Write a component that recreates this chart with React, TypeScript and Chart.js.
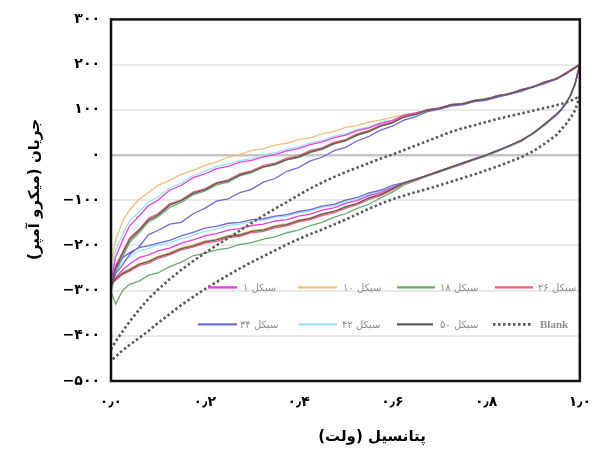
import React, { useEffect, useRef } from 'react';
import { Chart, registerables } from 'chart.js';

Chart.register(...registerables);

// Potential sweep grids: forward scan 0 → 1.0 V, reverse scan 1.0 → 0 V
const X_FWD = [0, 0.01, 0.025, 0.04, 0.06, 0.08, 0.1, 0.125, 0.15, 0.175, 0.2, 0.225, 0.25, 0.275, 0.3, 0.325, 0.35, 0.375, 0.4, 0.425, 0.45, 0.475, 0.5, 0.525, 0.55, 0.575, 0.6, 0.625, 0.65, 0.675, 0.7, 0.725, 0.75, 0.775, 0.8, 0.825, 0.85, 0.875, 0.9, 0.925, 0.95, 0.97, 0.985, 1.0];
const X_REV = [1.0, 0.995, 0.99, 0.98, 0.97, 0.96, 0.95, 0.925, 0.9, 0.875, 0.85, 0.825, 0.8, 0.775, 0.75, 0.725, 0.7, 0.675, 0.65, 0.625, 0.6, 0.575, 0.55, 0.525, 0.5, 0.475, 0.45, 0.425, 0.4, 0.375, 0.35, 0.325, 0.3, 0.275, 0.25, 0.225, 0.2, 0.175, 0.15, 0.125, 0.1, 0.08, 0.06, 0.04, 0.025, 0.01, 0];

// Current (µA), forward branches
const CYCLE_1_FWD = [-278, -225, -188, -156, -135, -112, -100, -78, -67, -50, -42, -30, -25, -16, -12, -4, 1, 9, 14, 23, 29, 38, 44, 54, 60, 70, 76, 88, 93, 99, 104, 111, 112, 121, 123, 132, 134, 144, 151, 161, 168, 181, 189, 199];
const CYCLE_10_FWD = [-240, -188, -146, -121, -98, -83, -67, -56, -43, -34, -23, -15, -5, 1, 10, 14, 22, 26, 34, 38, 47, 52, 61, 65, 73, 77, 84, 89, 93, 100, 103, 111, 113, 120, 123, 131, 135, 144, 150, 161, 168, 181, 192, 201];
const CYCLE_18_FWD = [-305, -258, -225, -193, -172, -148, -137, -116, -105, -88, -80, -66, -60, -46, -39, -27, -22, -11, -6, 5, 12, 24, 31, 44, 51, 64, 71, 84, 90, 99, 103, 112, 113, 121, 125, 129, 137, 142, 152, 159, 170, 179, 191, 199];
const CYCLE_26_FWD = [-288, -244, -214, -183, -165, -140, -130, -108, -99, -82, -75, -61, -55, -41, -35, -23, -18, -7, -2, 10, 16, 28, 34, 47, 54, 66, 73, 86, 91, 101, 103, 112, 114, 121, 123, 132, 135, 145, 150, 162, 169, 182, 191, 201];
const CYCLE_34_FWD = [-288, -262, -243, -220, -203, -176, -167, -153, -149, -130, -118, -102, -97, -83, -76, -60, -52, -36, -28, -13, -5, 9, 17, 31, 41, 55, 64, 77, 85, 96, 101, 108, 111, 118, 121, 128, 134, 141, 150, 158, 168, 179, 190, 199];
const CYCLE_42_FWD = [-262, -210, -175, -146, -126, -104, -93, -73, -62, -45, -36, -25, -20, -12, -8, 0, 5, 13, 18, 27, 32, 41, 47, 56, 62, 72, 77, 89, 92, 100, 104, 109, 115, 118, 125, 129, 137, 142, 152, 159, 170, 179, 191, 200];
const CYCLE_50_FWD = [-292, -250, -218, -187, -167, -144, -133, -111, -101, -85, -77, -63, -57, -44, -37, -26, -20, -10, -4, 7, 14, 25, 32, 44, 52, 64, 71, 84, 90, 99, 103, 111, 113, 120, 123, 131, 135, 144, 150, 161, 168, 181, 190, 200];
const BLANK_FWD = [-430, -412, -390, -368, -342, -318, -298, -275, -254, -235, -217, -200, -184, -167, -150, -134, -119, -104, -89, -74, -61, -49, -38, -28, -18, -8, 1, 11, 21, 31, 41, 51, 59, 66, 73, 80, 86, 92, 98, 104, 110, 116, 122, 130];

// Current (µA), reverse branches
const CYCLE_1_REV = [199, 181, 157, 133, 113, 101, 89, 69, 47, 33, 20, 11, -1, -8, -19, -26, -37, -44, -55, -61, -72, -83, -90, -101, -107, -117, -122, -131, -135, -143, -146, -153, -156, -163, -166, -174, -179, -188, -195, -206, -212, -221, -227, -241, -254, -271, -285];
const CYCLE_10_REV = [200, 179, 158, 131, 115, 99, 90, 67, 49, 31, 21, 9, 1, -10, -18, -28, -35, -46, -53, -63, -75, -88, -96, -108, -115, -125, -130, -139, -144, -152, -156, -164, -167, -175, -178, -186, -190, -199, -205, -216, -224, -234, -240, -251, -259, -273, -282];
const CYCLE_18_REV = [198, 178, 156, 130, 113, 99, 88, 66, 47, 30, 19, 8, -2, -11, -20, -29, -38, -47, -57, -66, -82, -95, -109, -118, -130, -138, -149, -156, -166, -172, -181, -186, -194, -198, -206, -210, -217, -223, -237, -247, -261, -266, -279, -286, -299, -330, -302];
const CYCLE_26_REV = [201, 180, 159, 132, 114, 100, 91, 68, 48, 33, 21, 10, 0, -9, -19, -27, -37, -45, -55, -63, -77, -90, -98, -110, -118, -128, -134, -143, -148, -157, -161, -169, -172, -180, -183, -191, -195, -204, -210, -221, -229, -239, -245, -257, -264, -277, -286];
const CYCLE_34_REV = [199, 178, 157, 131, 114, 100, 89, 68, 47, 32, 20, 10, -1, -9, -17, -27, -35, -45, -53, -61, -67, -78, -84, -94, -100, -109, -113, -121, -125, -132, -135, -141, -143, -149, -151, -158, -162, -171, -179, -189, -195, -201, -205, -216, -227, -251, -270];
const CYCLE_42_REV = [200, 180, 158, 132, 114, 100, 90, 68, 48, 32, 21, 10, 0, -9, -18, -27, -36, -45, -54, -62, -70, -80, -87, -97, -103, -112, -116, -124, -128, -135, -138, -144, -147, -153, -156, -164, -169, -178, -185, -194, -199, -207, -212, -225, -236, -257, -272];
const CYCLE_50_REV = [200, 180, 158, 132, 114, 100, 90, 68, 48, 32, 21, 10, 0, -9, -18, -27, -36, -45, -54, -62, -75, -87, -95, -107, -115, -125, -131, -140, -145, -154, -158, -166, -169, -177, -180, -188, -192, -201, -207, -218, -226, -236, -242, -254, -262, -274, -290];
const BLANK_REV = [130, 115, 99, 82, 68, 56, 44, 25, 8, -5, -15, -25, -34, -43, -51, -59, -67, -75, -82, -90, -98, -108, -119, -131, -143, -154, -165, -175, -186, -198, -211, -224, -237, -251, -266, -281, -297, -314, -332, -352, -372, -389, -405, -420, -432, -446, -455];

const SERIES_NAMES = ['سیکل ۱', 'سیکل ۱۰', 'سیکل ۱۸', 'سیکل ۲۶', 'سیکل ۳۴', 'سیکل ۴۲', 'سیکل ۵۰', 'Blank'];
const SERIES_COLORS = ['#e640dc', '#efbf7c', '#6cab6c', '#f25f7c', '#6f6bd2', '#9fe2ee', '#5f5a56', '#5a5a5a'];

const X_TICK_VALUES = [0, 0.2, 0.4, 0.6, 0.8, 1.0];
const X_TICK_LABELS = ['۰٫۰', '۰٫۲', '۰٫۴', '۰٫۶', '۰٫۸', '۱٫۰'];
const Y_TICK_VALUES = [-500, -400, -300, -200, -100, 0, 100, 200, 300];
const Y_TICK_LABELS = ['−۵۰۰', '−۴۰۰', '−۳۰۰', '−۲۰۰', '−۱۰۰', '۰', '۱۰۰', '۲۰۰', '۳۰۰'];

const X_TITLE = 'پتانسیل (ولت)';
const Y_TITLE = 'جریان (میکرو آمپر)';

const ARABIC_FONT = '"DejaVu Sans", "Noto Sans", sans-serif';

function cycleLoop(fwd: number[], rev: number[]) {
  return [
    ...X_FWD.map((x, i) => ({ x, y: fwd[i] })),
    ...X_REV.map((x, i) => ({ x, y: rev[i] })),
  ];
}

// Legend drawn inside the plot: [series index, line start, line end, text start]
const LEGEND_ROWS = [
  { dy: 268, items: [[0, 97, 126, 132], [1, 187, 226, 232], [2, 286, 324, 329], [3, 384, 422, 427]] },
  { dy: 305, items: [[4, 87, 126, 129], [5, 187, 226, 231], [6, 286, 322, 329], [7, 382, 422, 429]] },
];

// Draws right-to-left text with its left edge at x
function fillRtl(ctx: CanvasRenderingContext2D, text: string, x: number, y: number, align: CanvasTextAlign) {
  ctx.save();
  (ctx as any).direction = 'rtl';
  ctx.textAlign = align;
  ctx.fillText('\u200F' + text + '\u200F', x, y);
  ctx.restore();
}

const framePlugin = {
  id: 'frameAndLabels',
  afterDatasetsDraw(chart: any) {
    const { ctx, chartArea: ca } = chart;
    ctx.save();

    // Legend
    for (const row of LEGEND_ROWS) {
      const y = ca.top + row.dy;
      for (const [idx, x0, x1, tx] of row.items) {
        ctx.beginPath();
        ctx.strokeStyle = SERIES_COLORS[idx];
        ctx.lineWidth = idx === 7 ? 2.6 : 2.4;
        ctx.setLineDash(idx === 7 ? [2.5, 2.5] : []);
        ctx.moveTo(ca.left + x0, y);
        ctx.lineTo(ca.left + x1, y);
        ctx.stroke();
        ctx.setLineDash([]);
        ctx.fillStyle = '#8c8c8c';
        ctx.textBaseline = 'middle';
        if (idx === 7) {
          ctx.font = 'bold 11px "Liberation Serif", serif';
          ctx.textAlign = 'left';
          ctx.fillText(SERIES_NAMES[idx], ca.left + tx, y + 1);
        } else {
          ctx.font = `10px ${ARABIC_FONT}`;
          fillRtl(ctx, SERIES_NAMES[idx], ca.left + tx, y + 1, 'left');
        }
      }
    }

    // Frame around the plot area
    ctx.strokeStyle = '#111';
    ctx.lineWidth = 2.5;
    ctx.strokeRect(ca.left, ca.top, ca.right - ca.left, ca.bottom - ca.top);

    // Axis titles
    ctx.fillStyle = '#000';
    ctx.font = `bold 15px ${ARABIC_FONT}`;
    ctx.textBaseline = 'middle';
    fillRtl(ctx, X_TITLE, ca.left + 261, ca.bottom + 56, 'center');

    ctx.translate(35, ca.top + 170);
    ctx.rotate(-Math.PI / 2);
    fillRtl(ctx, Y_TITLE, 0, 0, 'center');
    ctx.restore();
  },
};

export default function App() {
  const canvasRef = useRef<HTMLCanvasElement | null>(null);

  useEffect(() => {
    if (!canvasRef.current) return;
    const cycles = [
      [CYCLE_1_FWD, CYCLE_1_REV],
      [CYCLE_10_FWD, CYCLE_10_REV],
      [CYCLE_18_FWD, CYCLE_18_REV],
      [CYCLE_26_FWD, CYCLE_26_REV],
      [CYCLE_34_FWD, CYCLE_34_REV],
      [CYCLE_42_FWD, CYCLE_42_REV],
      [CYCLE_50_FWD, CYCLE_50_REV],
      [BLANK_FWD, BLANK_REV],
    ];
    const drawOrder = [4, 6, 5, 3, 2, 7, 1, 0];
    const datasets = cycles.map(([fwd, rev], i) => ({
      label: SERIES_NAMES[i],
      data: cycleLoop(fwd, rev),
      showLine: true,
      borderColor: SERIES_COLORS[i],
      backgroundColor: SERIES_COLORS[i],
      borderWidth: i === 7 ? 2.6 : 1.3,
      borderDash: i === 7 ? [2.5, 2.5] : [],
      pointRadius: 0,
      tension: 0,
      order: drawOrder[i],
    }));

    const chart = new Chart(canvasRef.current, {
      type: 'scatter',
      data: { datasets },
      options: {
        animation: false,
        responsive: true,
        maintainAspectRatio: false,
        layout: { padding: { top: 17, right: 16, left: 0, bottom: 0 } },
        plugins: { legend: { display: false }, tooltip: { enabled: false } },
        scales: {
          x: {
            type: 'linear',
            min: 0,
            max: 1,
            border: { display: false },
            grid: { display: false, drawTicks: false },
            afterBuildTicks: (scale: any) => {
              scale.ticks = X_TICK_VALUES.map((v) => ({ value: v }));
            },
            ticks: {
              padding: 13,
              color: '#000',
              font: { family: ARABIC_FONT, weight: 'bold', size: 14 },
              callback: (v: any) => X_TICK_LABELS[X_TICK_VALUES.indexOf(Number(v))] ?? '',
            },
            afterFit: (scale: any) => {
              scale.height = 69;
            },
          },
          y: {
            min: -500,
            max: 300,
            border: { display: false },
            grid: {
              drawTicks: false,
              color: (c: any) =>
                c.tick && c.tick.value === 0
                  ? '#c6c6c6'
                  : c.tick && (c.tick.value === 300 || c.tick.value === -500)
                  ? 'rgba(0,0,0,0)'
                  : '#e9e9e9',
              lineWidth: (c: any) => (c.tick && c.tick.value === 0 ? 2.6 : 2),
            },
            afterBuildTicks: (scale: any) => {
              scale.ticks = Y_TICK_VALUES.map((v) => ({ value: v }));
            },
            ticks: {
              padding: 11,
              color: '#000',
              font: { family: ARABIC_FONT, weight: 'bold', size: 14 },
              callback: (v: any) => Y_TICK_LABELS[Y_TICK_VALUES.indexOf(Number(v))] ?? '',
            },
            afterFit: (scale: any) => {
              scale.width = 111;
            },
          },
        },
      } as any,
      plugins: [framePlugin],
    });
    return () => chart.destroy();
  }, []);

  return (
    <div style={{ position: 'absolute', left: 0, top: 0, width: 604, height: 450, background: '#fff' }}>
      <canvas ref={canvasRef} />
    </div>
  );
}
